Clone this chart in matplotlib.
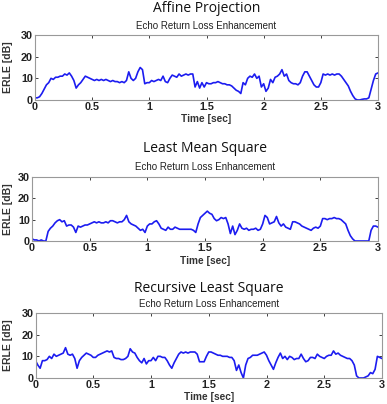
import numpy as np
import matplotlib
matplotlib.use("Agg")
import matplotlib.pyplot as plt

panel_titles = ["Affine Projection", "Least Mean Square", "Recursive Least Square"]
subtitle = "Echo Return Loss Enhancement"
xlabel = "Time [sec]"
ylabel = "ERLE [dB]"
xticks = [0, 0.5, 1, 1.5, 2, 2.5, 3]
xticklabels = ["0", "0.5", "1", "1.5", "2", "2.5", "3"]
yticks = [0, 10, 20, 30]

time = np.round(np.arange(0, 3.0001, 0.02), 2)

erle_ap = [1, 1, 1.5, 3, 5, 7, 8, 10, 9.5, 10.5,
           10.5, 11, 11, 12, 11.5, 12.5, 11, 9, 5.5, 7,
           8, 9.5, 11, 10.5, 10, 9.5, 9, 9.5, 9, 9.5,
           9, 9.5, 9, 8.5, 9, 8.5, 8.5, 8, 8.5, 8,
           9, 13, 10, 9, 10, 13, 15, 14, 7.5, 8,
           8, 9, 8.5, 9, 9.5, 9, 11, 8.5, 8, 10,
           11.5, 11, 10.5, 12, 11, 11.5, 12, 11.5, 12, 12,
           6, 8.5, 5.5, 8, 6, 8, 7.5, 7.5, 8, 8,
           8.5, 8, 7.5, 7.5, 7, 7, 6.5, 5.5, 4.5, 4,
           3, 8, 7, 10, 11, 10.5, 12, 10, 11, 6,
           7.5, 4, 5.5, 9.5, 8, 10.5, 11, 12, 14, 11,
           12, 9, 8, 7.5, 7.5, 7, 8, 11, 13, 13,
           11, 9, 7, 6, 6, 8, 12, 11.5, 12, 11.5,
           12, 11.5, 12, 12, 11, 9.5, 8, 6.5, 4, 2,
           0.5, 0, 0, 0.3, 0.5, 0.5, 1, 5, 9, 12,
           12.5]

erle_lms_start = 15
erle_lms = [1, 0.5, 0.5, 0, 0.5, 0, 0, 4.5, 6, 7,
            8.5, 9.5, 10, 9, 9.5, 7, 7.5, 7.5, 6.5, 4,
            7, 6.5, 7, 7.5, 7.5, 8, 8.5, 9, 8.5, 9,
            8.5, 8.5, 9, 8.5, 9.5, 9.5, 9, 8.5, 9, 9,
            10, 12, 9, 8, 7.5, 7, 6, 5, 5.5, 4,
            7, 8, 8, 9, 9.5, 8, 6, 5.5, 5, 6.5,
            5.5, 5.5, 6.5, 6, 5.5, 5.5, 5.5, 5.5, 5.5, 5.5,
            5, 4, 8, 11, 12, 13, 14, 13, 12.5, 10.5,
            9.5, 10, 11, 10.5, 11, 8, 3.5, 7, 3, 5,
            8, 6, 5.5, 6, 5, 5.5, 5.5, 6, 5, 5.5,
            8, 12, 11, 8, 8.5, 9, 11.5, 8.5, 7, 8,
            6.5, 6, 5.5, 9, 9, 8.5, 8, 7, 6.5, 6,
            5.5, 5, 6, 6.5, 6, 7, 10.5, 10.5, 10, 10.5,
            10.5, 11, 10.5, 10.5, 10, 9, 8, 5, 2.5, 1,
            0, 0, 0, 0, 0, 0, 0, 5, 7, 7,
            6.5]

erle_rls_start = 20
erle_rls = [8, 6, 4.5, 8, 8, 8.5, 10, 9, 11, 10,
            10.5, 11, 11.5, 14, 11, 10.5, 11, 9, 4.5, 8,
            9.5, 10.5, 11.5, 11, 10.5, 9.5, 9.5, 10.5, 11, 11.5,
            12, 12.5, 12, 12.5, 9.5, 9, 9, 8.5, 8.5, 9,
            10, 13.5, 12, 11.5, 9.5, 8, 7, 9, 6.5, 8,
            8, 9.5, 8, 10, 10, 9.5, 9.5, 8, 6, 4.5,
            7, 9, 11, 12, 11.5, 12, 11.5, 12, 12, 12,
            11, 7.5, 7.5, 7.5, 10, 12, 12, 11.5, 11, 10.5,
            10.5, 10, 10, 10, 9.5, 9.5, 8, 3.5, 6, 2.5,
            0, 6, 9, 9.5, 10.5, 10.5, 10.5, 11, 11.5, 12,
            10.5, 8, 6, 4, 7, 9.5, 11.5, 9, 10, 8.5,
            10, 9.5, 8.5, 9, 9, 11, 9, 7.5, 8, 9.5,
            9.5, 9, 11, 10, 9.5, 9, 10, 10.5, 10.5, 12.5,
            11, 11.5, 10.5, 10, 9.5, 9, 9, 8, 6, 1,
            0, 0, 0, 0.5, 1, 2.5, 2, 4, 10, 9.5,
            9]

series = [
    (time, erle_ap),
    (np.concatenate([[0.0], time]), [erle_lms_start] + erle_lms),
    (np.concatenate([[0.0], time]), [erle_rls_start] + erle_rls),
]

W, H = 387, 404
fig = plt.figure(figsize=(W / 100, H / 100), dpi=100)
fig.patch.set_facecolor("white")

# (left, top, right, bottom) in pixels
boxes = [(35, 35, 378, 100), (32, 177, 378, 241), (35.5, 313, 382, 378)]
title_base = [11.5, 151.5, 291.5]
sub_y = [26, 167, 304]
xl_y = [119, 261, 397]

line_color = "#1c1cf0"
for i, (box, (tx, ty)) in enumerate(zip(boxes, series)):
    l, t, r, b = box
    ax = fig.add_axes([l / W, 1 - b / H, (r - l) / W, (b - t) / H])
    ax.plot(tx, ty, color=line_color, lw=1.2, solid_joinstyle="round")
    ax.set_xlim(0, 3)
    ax.set_ylim(0, 30)
    ax.set_xticks(xticks)
    ax.set_xticklabels(xticklabels)
    ax.set_yticks(yticks)
    ax.tick_params(direction="in", length=2.5, width=0.6, top=True, right=True,
                   labelsize=7.8, pad=1.5, colors="#222222")
    for lab in ax.get_xticklabels() + ax.get_yticklabels():
        lab.set_fontfamily("Liberation Sans")
        lab.set_fontweight("bold")
    for s in ax.spines.values():
        s.set_color("#999999")
        s.set_linewidth(0.8)
    fig.text((l + r) / 2 / W, 1 - title_base[i] / H, panel_titles[i],
             ha="center", va="baseline", fontsize=10, family="Open Sans", color="#111111")
    fig.text((l + r) / 2 / W, 1 - sub_y[i] / H, subtitle,
             ha="center", va="center", fontsize=7, family="Liberation Sans", color="#222222")
    fig.text((l + r) / 2 / W, 1 - xl_y[i] / H, xlabel,
             ha="center", va="center", fontsize=7.3, family="Liberation Sans",
             fontweight="bold", color="#333333")
    fig.text(8 / W, 1 - ((t + b) / 2) / H, ylabel, rotation=90,
             ha="center", va="center", fontsize=7.5, family="Liberation Sans",
             fontweight="bold", color="#333333")

fig.savefig("out.png", dpi=100, facecolor="white")
